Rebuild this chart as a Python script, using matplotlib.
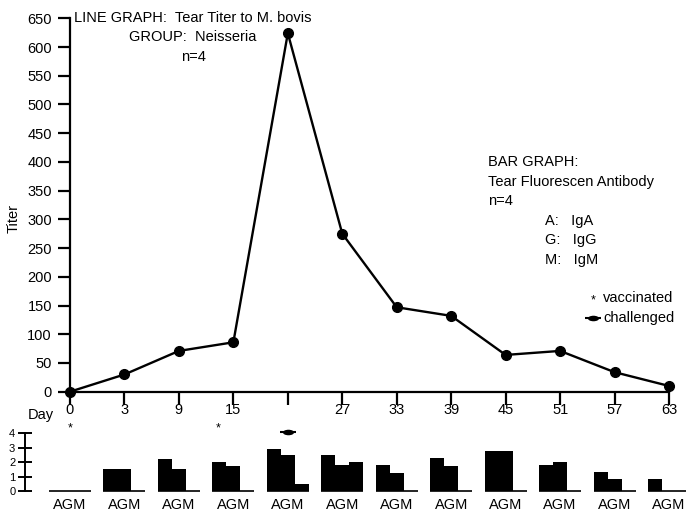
import matplotlib
matplotlib.use("Agg")
import matplotlib.pyplot as plt
from matplotlib.path import Path
from matplotlib.transforms import Affine2D
import numpy as np

plt.rcParams['font.family'] = ['DejaVu Sans Condensed', 'Liberation Sans', 'DejaVu Sans']

# line graph: tear titer to M. bovis
days = ['0', '3', '9', '15', '', '27', '33', '39', '45', '51', '57', '63']
titer = [0, 30, 71, 86, 624, 275, 147, 132, 64, 71, 34, 10]

# bar graph: tear fluorescent antibody (A, G, M)
iga = [0, 1.53, 2.24, 1.99, 2.94, 2.47, 1.80, 2.27, 2.77, 1.83, 1.34, 0.86]
igg = [0, 1.53, 1.53, 1.76, 2.47, 1.78, 1.29, 1.73, 2.77, 2.03, 0.86, 0]
igm = [0, 0, 0, 0, 0.53, 1.99, 0, 0, 0, 0, 0, 0]

x = np.arange(len(days))
fs = 10.5

# marker for "challenged": flat filled ellipse
lens = Path.unit_circle().transformed(Affine2D().scale(1.0, 0.5))

fig = plt.figure(figsize=(6.86, 5.15), dpi=100)

# main axes
ax = fig.add_axes([70/686, 1 - 391.7/515, 599/686, 373.4/515])
ax.plot(x, titer, color='black', lw=1.7, marker='o', ms=7, clip_on=False, zorder=3)
ax.set_xlim(0, 11)
ax.set_ylim(0, 650)
ax.set_yticks(np.arange(0, 651, 50))
ax.set_xticks(x)
ax.set_xticklabels(days)
ax.spines['top'].set_visible(False)
ax.spines['right'].set_visible(False)
ax.spines['left'].set_linewidth(1.6)
ax.spines['bottom'].set_linewidth(1.6)
ax.tick_params(axis='y', direction='out', length=9, width=1.6, labelsize=fs, pad=4)
ax.tick_params(axis='x', direction='in', length=9, width=1.6, labelsize=fs, pad=8)
for t in ax.xaxis.get_major_ticks():
    t.tick1line.set_marker(matplotlib.lines.TICKDOWN)
fig.text(14/686, 1 - 218/515, 'Titer', fontsize=fs, rotation=90, ha='center', va='center')
fig.text(41/686, 1 - 415/515, 'Day', fontsize=fs, ha='center', va='center')

# titles
fig.text(193/686, 1 - 18/515, 'LINE GRAPH:  Tear Titer to M. bovis', fontsize=fs,
         ha='center', va='center')
fig.text(193/686, 1 - 37/515, 'GROUP:  Neisseria', fontsize=fs, ha='center', va='center')
fig.text(193/686, 1 - 57/515, 'n=4', fontsize=fs, ha='center', va='center')

fig.text(488/686, 1 - 162/515, 'BAR GRAPH:', fontsize=fs, ha='left', va='center')
fig.text(488/686, 1 - 182/515, 'Tear Fluorescen Antibody', fontsize=fs, ha='left', va='center')
fig.text(488/686, 1 - 201/515, 'n=4', fontsize=fs, ha='left', va='center')
fig.text(545/686, 1 - 221/515, 'A:   IgA', fontsize=fs, ha='left', va='center')
fig.text(545/686, 1 - 240/515, 'G:   IgG', fontsize=fs, ha='left', va='center')
fig.text(545/686, 1 - 260/515, 'M:   IgM', fontsize=fs, ha='left', va='center')
fig.text(593/686, 1 - 300/515, '*', fontsize=9, ha='center', va='center')
fig.text(603/686, 1 - 298/515, 'vaccinated', fontsize=fs, ha='left', va='center')
fig.text(603/686, 1 - 318/515, 'challenged', fontsize=fs, ha='left', va='center')

# bar axes
bx = fig.add_axes([70/686, 1 - 491.3/515, 599/686, 58/515])
w = 0.257
bx.bar(x - w, iga, width=w, color='black', clip_on=False)
bx.bar(x, igg, width=w, color='black', clip_on=False)
bx.bar(x + w, igm, width=w, color='black', clip_on=False)
bx.hlines(np.zeros(len(x)), x - 1.5 * w, x + 1.5 * w, color='black', lw=1.2, clip_on=False)
bx.set_xlim(0, 11)
bx.set_ylim(0, 4)
bx.set_yticks([0, 1, 2, 3, 4])
bx.set_xticks(x)
bx.set_xticklabels(['AGM'] * len(x))
bx.tick_params(axis='x', length=0, labelsize=fs, pad=5)
bx.tick_params(axis='y', direction='inout', length=10, width=1.4, labelsize=8, pad=2)
for s in ['top', 'right', 'bottom']:
    bx.spines[s].set_visible(False)
bx.spines['left'].set_position(('axes', -0.0751))
bx.spines['left'].set_linewidth(1.4)
bx.patch.set_alpha(0)

# vaccinated / challenged markers under the day axis
tr = ax.get_xaxis_transform()
ax.text(0, -0.098, '*', transform=tr, fontsize=9, ha='center', va='center')
ax.text(2.73, -0.098, '*', transform=tr, fontsize=9, ha='center', va='center')
ax.plot([4], [-0.108], transform=tr, marker=lens, ms=8, mew=0, color='black', clip_on=False)
ax.plot([4], [-0.108], transform=tr, marker='_', ms=11, mew=1.5, color='black', clip_on=False)
p = fig.transFigure
ax.plot([593/686], [1 - 318/515], transform=p, marker=lens, ms=8, mew=0, color='black',
        clip_on=False)
ax.plot([593/686], [1 - 318/515], transform=p, marker='_', ms=11, mew=1.5, color='black',
        clip_on=False)

fig.savefig('out.png', dpi=100)
